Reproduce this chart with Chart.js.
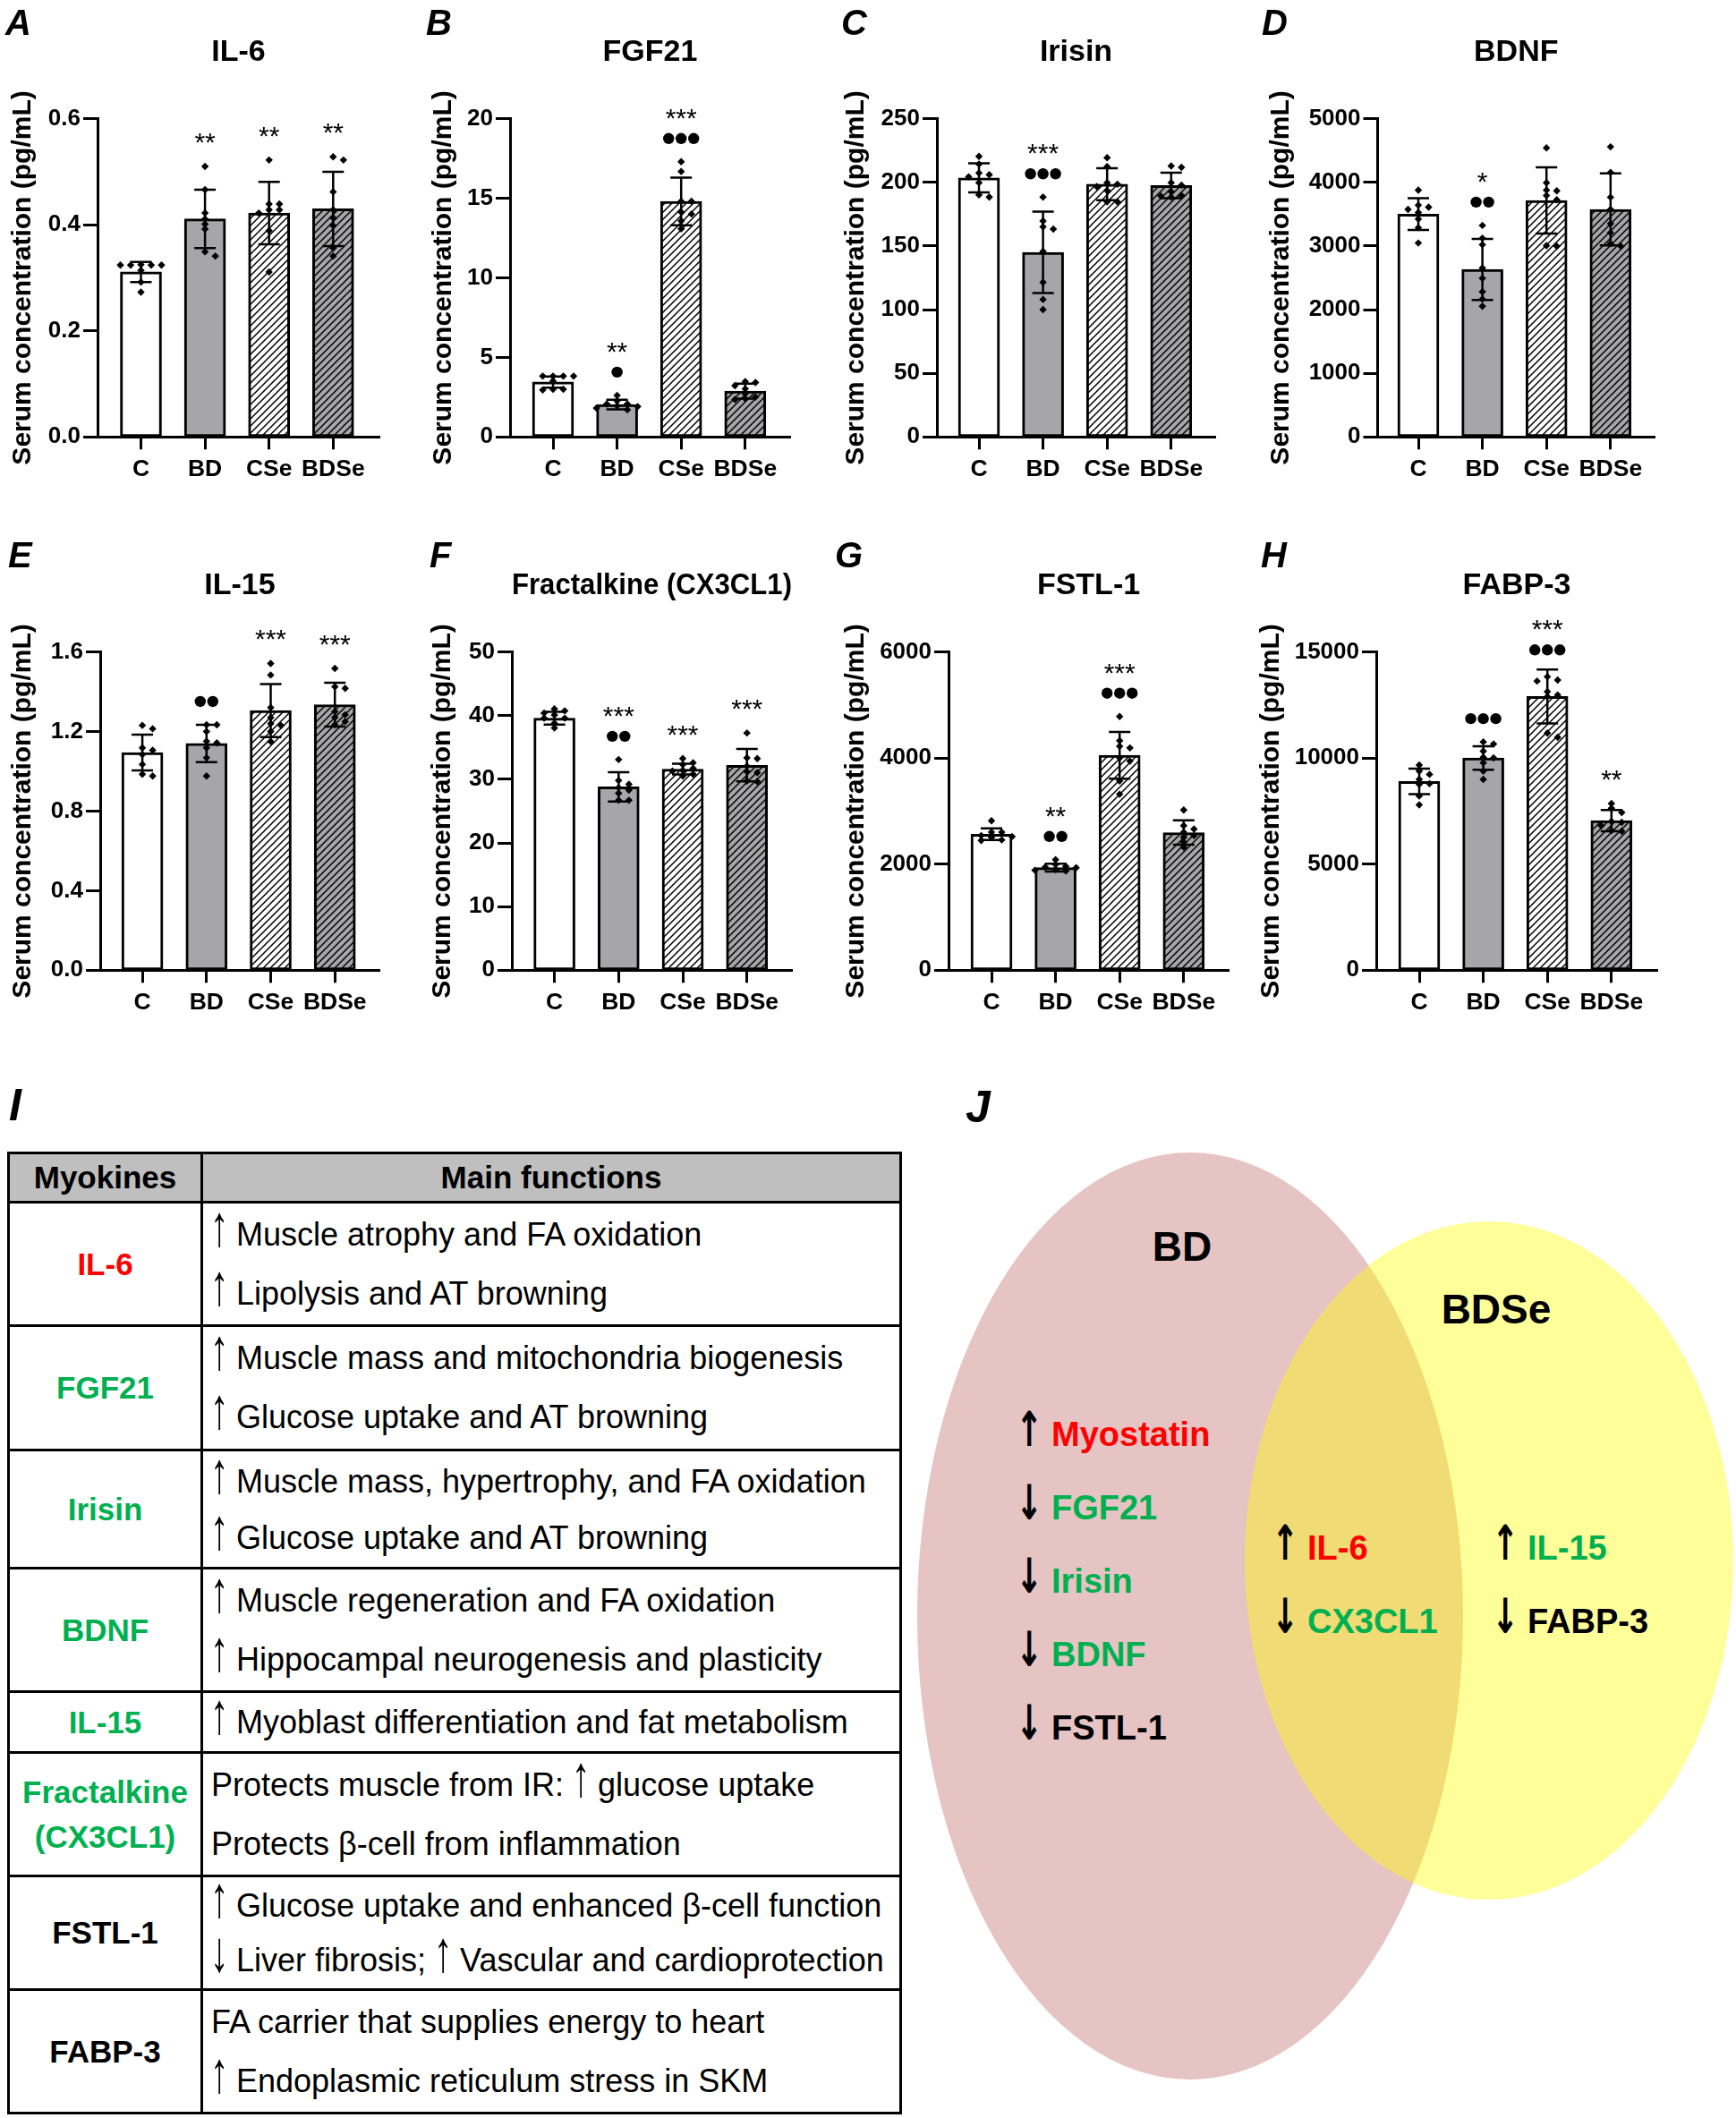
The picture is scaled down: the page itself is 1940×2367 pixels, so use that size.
<!DOCTYPE html>
<html>
<head>
<meta charset="utf-8">
<title>Myokines - serum concentrations</title>
<script src="https://cdn.jsdelivr.net/npm/chart.js@4.4.1/dist/chart.umd.min.js"></script>
<style>
body { margin: 0; background: #fff; font-family: "Liberation Sans", Arial, Helvetica, sans-serif; }
#page { position: relative; width: 1940px; height: 2367px; overflow: hidden; background: #fff; }
#page canvas { position: absolute; }
.letter { position: absolute; font-style: italic; font-weight: bold; font-size: 40px; line-height: 40px; color: #000; }
.big { font-size: 50px; line-height: 50px; }
#tbl { position: absolute; left: 8px; top: 1287px; border-collapse: collapse; table-layout: fixed; width: 1000px; }
#tbl td, #tbl th { border: 3px solid #000; padding: 0; white-space: nowrap; vertical-align: middle; overflow: hidden; }
#tbl th { background: #bfbfbf; font-size: 35px; font-weight: bold; text-align: center; }
#tbl td.name { text-align: center; font-weight: bold; font-size: 35px; line-height: 50px; }
#tbl td.func { font-size: 36px; padding-left: 9px; }
.up { display: inline-block; line-height: 1; transform: scale(1.15, 1.8); transform-origin: 50% 83%; }
.ell { position: absolute; border-radius: 50%; }
.vlab { position: absolute; font-weight: bold; font-size: 46px; transform: translate(-50%, -50%); white-space: nowrap; }
.vitem { position: absolute; font-weight: bold; font-size: 38px; line-height: 40px; white-space: nowrap; transform: translateY(-50%); }
.vitem .arr { display: inline-block; width: 50px; text-align: center; color: #000;
              font-family: "DejaVu Sans", sans-serif; font-weight: bold; font-size: 36px; }
.vitem .arr span { display: inline-block; line-height: 1; transform: scale(1, 1.5); transform-origin: 50% 80%; }
</style>
</head>
<body>
<div id="page"></div>

<script>
//////////////////////////////////////////////////
//////////////// data ////////
var groups = ["C", "BD", "CSe", "BDSe"];

// A - IL-6
var il6Mean = [0.311, 0.411, 0.422, 0.430];
var il6Sd = [0.019, 0.055, 0.059, 0.070];
var il6Points = [
  [0.324, 0.324, 0.325, 0.324, 0.324, 0.314, 0.292, 0.273],
  [0.510, 0.466, 0.422, 0.411, 0.401, 0.392, 0.341, 0.349],
  [0.522, 0.439, 0.439, 0.428, 0.428, 0.422, 0.389, 0.311],
  [0.522, 0.528, 0.462, 0.428, 0.413, 0.398, 0.356, 0.341]
];
var il6Stars = ["", "**", "**", "**"];
var il6Dots = [0, 0, 0, 0];

// B - FGF21
var fgfMean = [3.45, 2.03, 14.8, 2.88];
var fgfSd = [0.35, 0.30, 1.5, 0.47];
var fgfPoints = [
  [3.82, 3.82, 3.82, 3.82, 3.52, 2.95, 3.00, 3.00],
  [2.61, 2.27, 2.07, 1.91, 1.81, 1.71, 1.95, 2.07],
  [17.29, 16.68, 14.81, 14.81, 14.13, 14.01, 13.57, 13.07],
  [3.42, 3.48, 3.22, 3.02, 2.71, 2.51, 2.41, 2.35]
];
var fgfStars = ["", "**", "***", ""];
var fgfDots = [0, 1, 3, 0];

// C - Irisin
var irisinMean = [203.5, 145, 198.5, 197.5];
var irisinSd = [11.5, 32, 12.5, 10];
var irisinPoints = [
  [220.4, 214.3, 204.3, 206.0, 207.3, 199.7, 188.4, 190.2],
  [188.4, 169.6, 165.1, 163.3, 145.7, 121.4, 108.0, 100.0],
  [219.3, 212.3, 198.5, 199.7, 196.7, 193.5, 184.7, 184.7],
  [211.8, 212.8, 197.7, 199.7, 192.7, 189.2, 188.4, 189.7]
];
var irisinStars = ["", "***", "", ""];
var irisinDots = [0, 3, 0, 0];

// D - BDNF
var bdnfMean = [3500, 2630, 3715, 3575];
var bdnfSd = [250, 480, 520, 565];
var bdnfPoints = [
  [3877, 3610, 3640, 3525, 3575, 3424, 3288, 3046],
  [3323, 3122, 3021, 2654, 2492, 2281, 2165, 2054],
  [4542, 3993, 3791, 3867, 3877, 3726, 2996, 3006],
  [4557, 4154, 3766, 3575, 3349, 3208, 2996, 3036]
];
var bdnfStars = ["", "*", "", ""];
var bdnfDots = [0, 2, 0, 0];

// E - IL-15
var il15Mean = [1.094, 1.140, 1.305, 1.335];
var il15Sd = [0.090, 0.094, 0.133, 0.110];
var il15Points = [
  [1.214, 1.231, 1.106, 1.118, 1.084, 0.976, 0.985, 1.035],
  [1.234, 1.234, 1.200, 1.151, 1.118, 1.143, 1.068, 0.976],
  [1.542, 1.484, 1.320, 1.240, 1.200, 1.230, 1.270, 1.150],
  [1.517, 1.417, 1.425, 1.300, 1.284, 1.271, 1.234, 1.250]
];
var il15Stars = ["", "", "***", "***"];
var il15Dots = [0, 2, 0, 0];

// F - Fractalkine (CX3CL1)
var cx3Mean = [39.6, 28.8, 31.6, 32.2];
var cx3Sd = [1.0, 2.3, 0.85, 2.55];
var cx3Points = [
  [41.06, 40.75, 40.4, 40.1, 39.6, 39.6, 38.05, 38.8],
  [33.1, 29.8, 29.2, 28.7, 28.3, 27.8, 26.7, 26.7],
  [33.26, 32.6, 32.3, 31.7, 31.3, 31.4, 30.5, 30.8],
  [37.27, 33.37, 33.26, 32.07, 31.19, 31.03, 29.73, 29.63]
];
var cx3Stars = ["", "***", "***", "***"];
var cx3Dots = [0, 2, 0, 0];

// G - FSTL-1
var fstlMean = [2565, 1935, 4050, 2595];
var fstlSd = [110, 75, 440, 230];
var fstlPoints = [
  [2819, 2601, 2538, 2520, 2457, 2445, 2507, 2601],
  [2083, 1990, 1946, 1933, 1884, 1896, 1871, 1958],
  [4784, 4222, 4328, 4191, 3942, 4004, 3568, 3318],
  [3019, 2726, 2663, 2601, 2538, 2507, 2414, 2320]
];
var fstlStars = ["", "**", "***", ""];
var fstlDots = [0, 2, 3, 0];

// H - FABP-3
var fabpMean = [8900, 10000, 12900, 7050];
var fabpSd = [600, 550, 1270, 500];
var fabpPoints = [
  [9667, 9387, 9231, 8997, 8794, 8763, 8217, 7796],
  [10759, 10665, 10322, 10010, 10042, 9776, 9387, 8997],
  [13830, 13628, 13675, 13129, 12973, 12900, 10977, 11180],
  [7859, 7640, 7437, 7017, 6580, 6549, 6814, 6970]
];
var fabpStars = ["", "", "***", "**"];
var fabpDots = [0, 3, 3, 0];

// y scales (max, step, decimals)
var yMaxes = [0.6, 20, 250, 5000, 1.6, 50, 6000, 15000];
var ySteps = [0.2, 5, 50, 1000, 0.4, 10, 2000, 5000];
var yDecimals = [1, 0, 0, 0, 1, 0, 0, 0];
var panelTitles = ["IL-6", "FGF21", "Irisin", "BDNF", "IL-15", "Fractalkine (CX3CL1)", "FSTL-1", "FABP-3"];
var yTitle = "Serum concentration (pg/mL)";

// panel I
var myokineNames = [["IL-6"], ["FGF21"], ["Irisin"], ["BDNF"], ["IL-15"], ["Fractalkine", "(CX3CL1)"], ["FSTL-1"], ["FABP-3"]];
var mainFunctions = [
  ["\u2191 Muscle atrophy and FA oxidation", "\u2191 Lipolysis and AT browning"],
  ["\u2191 Muscle mass and mitochondria biogenesis", "\u2191 Glucose uptake and AT browning"],
  ["\u2191 Muscle mass, hypertrophy, and FA oxidation", "\u2191 Glucose uptake and AT browning"],
  ["\u2191 Muscle regeneration and FA oxidation", "\u2191 Hippocampal neurogenesis and plasticity"],
  ["\u2191 Myoblast differentiation and fat metabolism"],
  ["Protects muscle from IR: \u2191 glucose uptake", "Protects \u03b2-cell from inflammation"],
  ["\u2191 Glucose uptake and enhanced \u03b2-cell function", "\u2193 Liver fibrosis; \u2191 Vascular and cardioprotection"],
  ["FA carrier that supplies energy to heart", "\u2191 Endoplasmic reticulum stress in SKM"]
];

// panel J
var onlyBD = [["\u2191", "Myostatin"], ["\u2193", "FGF21"], ["\u2193", "Irisin"], ["\u2193", "BDNF"], ["\u2193", "FSTL-1"]];
var bothSets = [["\u2191", "IL-6"], ["\u2193", "CX3CL1"]];
var onlyBDSe = [["\u2191", "IL-15"], ["\u2193", "FABP-3"]];
//////////////////////////////////////////////////
</script>

<script>
var FONT = '"Liberation Sans", Arial, Helvetica, sans-serif';
var RED = "#ff0000", GREEN = "#00b050", GRAY = "#a6a6a9";
var nameColor = { "IL-6": RED, "Myostatin": RED, "FGF21": GREEN, "Irisin": GREEN, "BDNF": GREEN,
  "IL-15": GREEN, "Fractalkine": GREEN, "(CX3CL1)": GREEN, "CX3CL1": GREEN, "FSTL-1": "#000", "FABP-3": "#000" };

Chart.defaults.font.family = FONT;
Chart.defaults.color = "#000";

var page = document.getElementById("page");
var SPACING = 71.6;   // px between group centres
var PLOT_H = 356;     // px from 0 to axis max

// where each panel sits on the page
var boxes = [
  { left: 4, top: 0, axisX: 109, endX: 424, firstX: 157.5 },
  { left: 474, top: 0, axisX: 570, endX: 883, firstX: 618 },
  { left: 935, top: 0, axisX: 1047, endX: 1358, firstX: 1094 },
  { left: 1410, top: 0, axisX: 1539.5, endX: 1849, firstX: 1585 },
  { left: 4, top: 596, axisX: 112, endX: 423.5, firstX: 159 },
  { left: 473, top: 596, axisX: 572, endX: 884.5, firstX: 619.5 },
  { left: 935, top: 596, axisX: 1060, endX: 1373, firstX: 1108 },
  { left: 1399, top: 596, axisX: 1538, endX: 1852, firstX: 1586 }
];
var letters = [["A", 6, 5], ["B", 476, 5], ["C", 940, 5], ["D", 1410, 5],
               ["E", 9, 600], ["F", 480, 600], ["G", 933, 600], ["H", 1409, 600]];

var panelData = [
  { mean: il6Mean, sd: il6Sd, points: il6Points, stars: il6Stars, dots: il6Dots },
  { mean: fgfMean, sd: fgfSd, points: fgfPoints, stars: fgfStars, dots: fgfDots },
  { mean: irisinMean, sd: irisinSd, points: irisinPoints, stars: irisinStars, dots: irisinDots },
  { mean: bdnfMean, sd: bdnfSd, points: bdnfPoints, stars: bdnfStars, dots: bdnfDots },
  { mean: il15Mean, sd: il15Sd, points: il15Points, stars: il15Stars, dots: il15Dots },
  { mean: cx3Mean, sd: cx3Sd, points: cx3Points, stars: cx3Stars, dots: cx3Dots },
  { mean: fstlMean, sd: fstlSd, points: fstlPoints, stars: fstlStars, dots: fstlDots },
  { mean: fabpMean, sd: fabpSd, points: fabpPoints, stars: fabpStars, dots: fabpDots }
];

// diagonal hatch fill
function makeHatch(ctx, bg) {
  var s = 8;
  var c = document.createElement("canvas");
  c.width = s; c.height = s;
  var g = c.getContext("2d");
  g.fillStyle = bg; g.fillRect(0, 0, s, s);
  g.strokeStyle = "#000"; g.lineWidth = 1.5;
  g.beginPath();
  g.moveTo(-1, s + 1); g.lineTo(s + 1, -1);
  g.moveTo(-1, 1); g.lineTo(1, -1);
  g.moveTo(s - 1, s + 1); g.lineTo(s + 1, s - 1);
  g.stroke();
  return ctx.createPattern(c, "repeat");
}

// simple beeswarm, offsets in px
function swarm(vals, pxPerUnit) {
  var step = 11.5;
  var order = vals.map(function (v, i) { return i; }).sort(function (a, b) { return vals[b] - vals[a]; });
  var placed = [], offs = [];
  order.forEach(function (i) {
    var y = vals[i] * pxPerUnit, cand = 0;
    for (var n = 0; n < 30; n++) {
      cand = n === 0 ? 0 : (n % 2 ? 1 : -1) * Math.ceil(n / 2) * step;
      var hit = placed.some(function (p) { return Math.abs(p.x - cand) < step * 0.9 && Math.abs(p.y - y) < 5; });
      if (!hit) break;
    }
    placed.push({ x: cand, y: y });
    offs[i] = cand;
  });
  return offs;
}

function buildPanel(k) {
  var b = boxes[k], d = panelData[k];
  var yMax = yMaxes[k], dec = yDecimals[k];
  var w = Math.ceil(b.endX - b.left + 14), h = 560;
  var canvas = document.createElement("canvas");
  canvas.width = w; canvas.height = h;
  canvas.style.left = b.left + "px"; canvas.style.top = b.top + "px";
  canvas.style.width = w + "px"; canvas.style.height = h + "px";
  page.appendChild(canvas);
  var ctx = canvas.getContext("2d");

  var xmin = -(b.firstX - b.axisX) / SPACING;
  var xmax = (b.endX - b.firstX) / SPACING;
  var pxPerUnit = PLOT_H / yMax;

  var pts = [];
  d.points.forEach(function (vals, g) {
    var offs = swarm(vals, pxPerUnit);
    vals.forEach(function (v, j) { pts.push({ x: g + offs[j] / SPACING, y: v }); });
  });
  var bars = d.mean.map(function (m, g) { return { x: g, y: m }; });

  var errorBars = {
    id: "errorBars" + k,
    afterDatasetDraw: function (chart, args) {
      if (args.index !== 1) return;
      var c = chart.ctx, xs = chart.scales.x, ys = chart.scales.y;
      c.save();
      c.strokeStyle = "#000"; c.lineWidth = 2.5;
      d.mean.forEach(function (m, g) {
        var px = xs.getPixelForValue(g);
        var hi = ys.getPixelForValue(m + d.sd[g]), lo = ys.getPixelForValue(m - d.sd[g]);
        c.beginPath();
        c.moveTo(px, hi); c.lineTo(px, lo);
        c.moveTo(px - 12, hi); c.lineTo(px + 12, hi);
        c.moveTo(px - 12, lo); c.lineTo(px + 12, lo);
        c.stroke();
      });
      c.restore();
    }
  };

  var signif = {
    id: "signif" + k,
    afterDatasetsDraw: function (chart) {
      var c = chart.ctx, xs = chart.scales.x, ys = chart.scales.y;
      c.save();
      c.fillStyle = "#000";
      d.mean.forEach(function (m, g) {
        if (!d.stars[g] && !d.dots[g]) return;
        var px = xs.getPixelForValue(g);
        var top = Math.min(ys.getPixelForValue(m + d.sd[g]),
                           ys.getPixelForValue(Math.max.apply(null, d.points[g])) - 4);
        var y;
        if (d.dots[g]) {
          y = top - 22;
          for (var n = 0; n < d.dots[g]; n++) {
            c.beginPath();
            c.arc(px + (n - (d.dots[g] - 1) / 2) * 14, y, 6.2, 0, Math.PI * 2);
            c.fill();
          }
          y -= 30;
        } else {
          y = top - 30;
        }
        if (d.stars[g]) {
          c.font = "30px " + FONT;
          c.textAlign = "center"; c.textBaseline = "alphabetic";
          c.fillText(d.stars[g], px, y + 17);
        }
      });
      c.restore();
    }
  };

  var axisLine = { display: true, color: "#000", width: 3 };

  new Chart(ctx, {
    type: "bar",
    data: {
      datasets: [
        { type: "scatter", data: pts, pointStyle: "rectRot", pointRadius: 4.2,
          backgroundColor: "#000", borderWidth: 0, order: 0 },
        { type: "bar", data: bars,
          backgroundColor: ["#ffffff", GRAY, makeHatch(ctx, "#ffffff"), makeHatch(ctx, GRAY)],
          borderColor: "#000", borderWidth: 3, borderSkipped: false, barThickness: 46, order: 1 }
      ]
    },
    options: {
      responsive: false, animation: false, events: [],
      layout: { padding: { left: 0, right: 14, top: 0, bottom: 0 } },
      plugins: {
        legend: { display: false },
        tooltip: { enabled: false },
        title: { display: true, text: panelTitles[k], fullSize: false, color: "#000",
                 font: { size: 34, weight: "bold" }, padding: { top: 38, bottom: 53.8 } }
      },
      scales: {
        x: {
          type: "linear", min: xmin, max: xmax, bounds: "data", offset: false,
          afterBuildTicks: function (s) { s.ticks = groups.map(function (g, i) { return { value: i }; }); },
          afterFit: function (s) { s.height = 71.7; },
          ticks: { callback: function (v) { return groups[v]; }, autoSkip: false, maxRotation: 0,
                   color: "#000", padding: 6, font: { size: 26.5, weight: "bold" } },
          grid: { offset: false, drawOnChartArea: false, drawTicks: true, tickLength: 14, tickWidth: 3, tickColor: "#000" },
          border: axisLine
        },
        y: {
          min: 0, max: yMax,
          afterFit: function (s) { s.width = b.axisX - b.left; },
          ticks: { stepSize: ySteps[k], color: "#000", padding: 3, font: { size: 26, weight: "bold" },
                   callback: function (v) { return Number(v).toFixed(dec); } },
          grid: { drawOnChartArea: false, drawTicks: true, tickLength: 16, tickWidth: 3, tickColor: "#000" },
          border: axisLine,
          title: { display: true, text: yTitle, color: "#000", font: { size: 30, weight: "bold" },
                   padding: { top: 4, bottom: 0 } }
        }
      }
    },
    plugins: [errorBars, signif]
  });
}

for (var k = 0; k < boxes.length; k++) buildPanel(k);

function addDiv(cls, html, css) {
  var el = document.createElement("div");
  el.className = cls; el.innerHTML = html;
  for (var p in css) el.style[p] = css[p];
  page.appendChild(el);
  return el;
}

letters.forEach(function (L) { addDiv("letter", L[0], { left: L[1] + "px", top: L[2] + "px" }); });
addDiv("letter big", "I", { left: "10px", top: "1210px" });
addDiv("letter big", "J", { left: "1079px", top: "1212px" });

// ---- panel I: table
var rowHeights = [138, 139, 132, 138, 68, 138, 127, 138];
function arrows(s) { return s.replace(/([\u2191\u2193])/g, '<span class="up">$1</span>'); }
var tbl = document.createElement("table");
tbl.id = "tbl";
var html = '<colgroup><col style="width:216px"><col></colgroup>' +
  '<tr style="height:55px"><th>Myokines</th><th>Main functions</th></tr>';
myokineNames.forEach(function (nm, i) {
  var h = rowHeights[i];
  var lh = Math.min(66, Math.floor((h - 5) / 2));
  var names = nm.map(function (s) { return '<div style="color:' + nameColor[s] + '">' + s + "</div>"; }).join("");
  var funcs = mainFunctions[i].map(function (s) { return "<div>" + arrows(s) + "</div>"; }).join("");
  html += '<tr style="height:' + h + 'px"><td class="name">' + names +
          '</td><td class="func" style="line-height:' + lh + 'px">' + funcs + "</td></tr>";
});
tbl.innerHTML = html;
page.appendChild(tbl);

// ---- panel J: Venn
addDiv("ell", "", { left: "1025px", top: "1288px", width: "610px", height: "1036px", background: "#e6c4c4" });
addDiv("ell", "", { left: "1391px", top: "1365px", width: "546px", height: "758px", background: "rgba(255,255,0,0.4)" });
addDiv("vlab", "BD", { left: "1321px", top: "1393px" });
addDiv("vlab", "BDSe", { left: "1672px", top: "1463px" });

function vennList(items, textX, y0, gap) {
  items.forEach(function (it, i) {
    addDiv("vitem", '<span class="arr"><span>' + it[0] + '</span></span><span style="color:' + nameColor[it[1]] + '">' + it[1] + "</span>",
      { left: (textX - 50) + "px", top: (y0 + i * gap) + "px" });
  });
}
vennList(onlyBD, 1175, 1603, 82);
vennList(bothSets, 1461, 1730, 82);
vennList(onlyBDSe, 1707, 1730, 82);
</script>
</body>
</html>
